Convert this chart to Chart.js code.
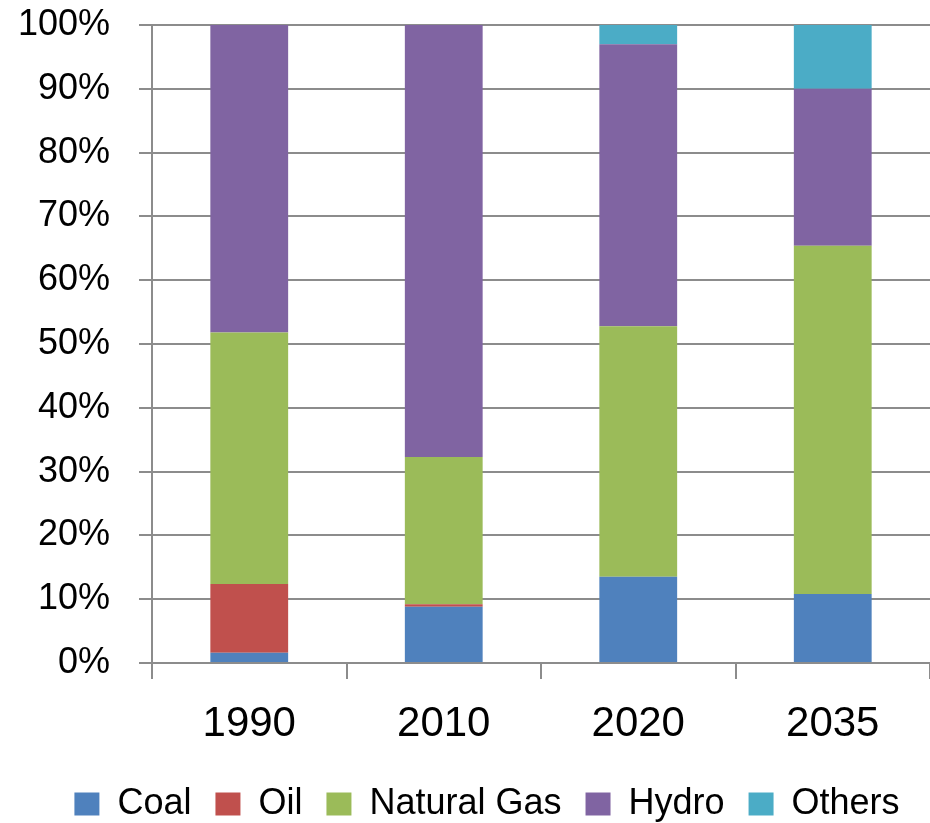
<!DOCTYPE html>
<html>
<head>
<meta charset="utf-8">
<script src="https://cdn.jsdelivr.net/npm/chart.js@4/dist/chart.umd.min.js"></script>
<style>
  html, body { margin: 0; padding: 0; background: #ffffff; }
  #wrap { width: 930px; height: 823px; }
</style>
</head>
<body>
<div id="wrap"><canvas id="chart" width="930" height="823"></canvas></div>
<script>
// Electricity generation mix by source (share of total, %)
const years = ['1990', '2010', '2020', '2035'];
const coal = [1.6, 8.8, 13.5, 10.8];
const oil = [10.8, 0.4, 0, 0];
const naturalGas = [39.4, 23.1, 39.3, 54.6];
const hydro = [48.2, 67.7, 44.2, 24.6];
const others = [0, 0, 3.0, 10.0];
const yTicks = [0, 10, 20, 30, 40, 50, 60, 70, 80, 90, 100];

const FONT = "'Liberation Sans', Arial, sans-serif";
const GRID = '#8c8c8c';

const series = [
  { label: 'Coal', data: coal, color: '#4F81BD' },
  { label: 'Oil', data: oil, color: '#C0504D' },
  { label: 'Natural Gas', data: naturalGas, color: '#9BBB59' },
  { label: 'Hydro', data: hydro, color: '#8064A2' },
  { label: 'Others', data: others, color: '#4BACC6' }
];

// Nudge the legend row so it sits a little lower and to the right
const legendOffset = {
  id: 'legendOffset',
  afterLayout(chart) {
    const lg = chart.legend;
    if (!lg) return;
    lg.left += 44;
    lg.top += 9;
    lg.bottom += 9;
  }
};

new Chart(document.getElementById('chart'), {
  type: 'bar',
  data: {
    labels: years,
    datasets: series.map(s => ({
      label: s.label,
      data: s.data,
      backgroundColor: s.color,
      borderWidth: 0,
      categoryPercentage: 1.0,
      barPercentage: 0.4
    }))
  },
  plugins: [legendOffset],
  options: {
    responsive: false,
    animation: false,
    layout: { padding: { top: 25, right: 0, left: 0, bottom: 0 } },
    plugins: {
      tooltip: { enabled: false },
      legend: {
        position: 'bottom',
        labels: {
          boxWidth: 25,
          boxHeight: 23,
          padding: 24,
          color: '#000',
          font: { family: FONT, size: 36 }
        }
      }
    },
    scales: {
      x: {
        stacked: true,
        offset: true,
        afterFit: (scale) => { scale.height = 90; },
        grid: {
          offset: true,
          drawOnChartArea: false,
          drawTicks: true,
          tickLength: 16,
          color: GRID,
          lineWidth: 2
        },
        border: { display: true, color: GRID, width: 2 },
        ticks: {
          color: '#000',
          padding: 24,
          font: { family: FONT, size: 42, lineHeight: 1 }
        }
      },
      y: {
        stacked: true,
        min: 0,
        max: 100,
        afterFit: (scale) => {
          scale.width = 152;
          scale.paddingTop = 0;
          scale.paddingBottom = 0;
        },
        afterBuildTicks: (scale) => { scale.ticks = yTicks.map(v => ({ value: v })); },
        grid: {
          color: GRID,
          lineWidth: 2,
          tickLength: 13
        },
        border: { display: true, color: GRID, width: 2 },
        ticks: {
          color: '#000',
          padding: 29,
          font: { family: FONT, size: 36 },
          callback: (v) => v + '%'
        }
      }
    }
  }
});
</script>
</body>
</html>
